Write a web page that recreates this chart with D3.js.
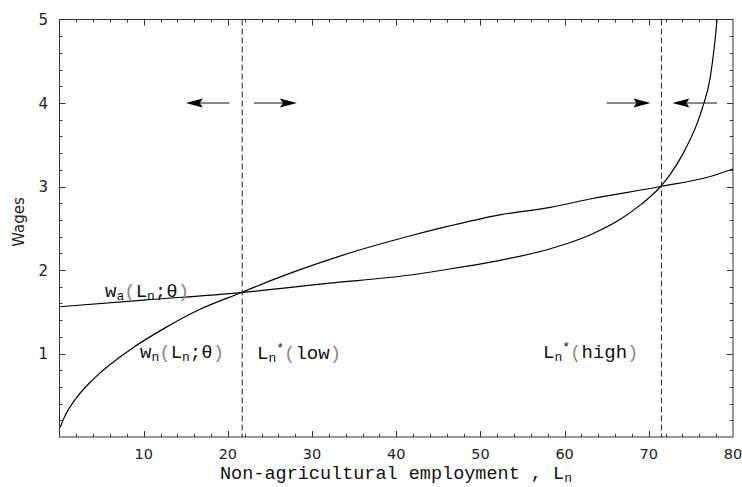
<!DOCTYPE html>
<html>
<head>
<meta charset="utf-8">
<script src="https://cdn.jsdelivr.net/npm/d3@7"></script>
<style>
  html, body { margin: 0; padding: 0; background: #fff; }
  svg { display: block; }
</style>
</head>
<body>
<svg id="chart" width="742" height="487"></svg>
<script>
// ---- data ----
const xTicks = [10, 20, 30, 40, 50, 60, 70, 80];
const yTicks = [1, 2, 3, 4, 5];
// w_n(L_n; θ) : concave curve
const wnX = [0.1, 0.5, 2.1, 4.1, 8.6, 12.6, 16.5, 21.6, 25.0, 33.4, 41.7, 45.6, 52.3, 58.3, 63.0, 71.4, 77.3, 80.0];
const wnY = [0.12, 0.22, 0.48, 0.70, 1.06, 1.31, 1.52, 1.73, 1.87, 2.17, 2.41, 2.51, 2.66, 2.75, 2.85, 3.00, 3.12, 3.21];
// w_a(L_n; θ) : convex curve
const waX = [0, 10, 21.6, 31.8, 41.7, 45.6, 51.5, 58.5, 63.0, 66.8, 69.0, 70.2, 71.4, 72.5, 74.1, 76.3, 77.3, 78.1, 78.4];
const waY = [1.56, 1.64, 1.73, 1.84, 1.94, 2.00, 2.10, 2.26, 2.42, 2.62, 2.78, 2.88, 3.00, 3.14, 3.40, 3.92, 4.31, 5.00, 5.4];
// equilibria
const eqLow = 21.7, eqHigh = 71.5;
// arrows at wage = 4 : [from, to]
const arrows = [[20.2, 15.0], [23.1, 28.2], [65.0, 70.2], [78.1, 72.8]];
const arrowY = 4;

(function () {
// ---- layout ----
const svg = d3.select("#chart");
const pL = 59.5, pR = 733, pT = 19.5, pB = 437;
const x = d3.scaleLinear().domain([0, 80]).range([pL, pR]);
const y = d3.scaleLinear().domain([0, 5]).range([pB, pT]);
const frameColor = "#333";

const defs = svg.append("defs");
defs.append("clipPath").attr("id", "plotclip")
  .append("rect").attr("x", pL).attr("y", pT).attr("width", pR - pL).attr("height", pB - pT);

// ticks (inward, all four sides)
const xMinor = d3.range(2, 80, 2);
const yMinor = d3.range(0.2, 5, 0.2).map(v => +v.toFixed(1));
const isMajorX = v => v % 10 === 0;
const isMajorY = v => Math.abs(v - Math.round(v)) < 1e-6;

const tickG = svg.append("g").attr("stroke", frameColor).attr("stroke-width", 1);
xMinor.forEach(v => {
  const len = isMajorX(v) ? 6 : 3;
  const px = Math.round(x(v)) + 0.5;
  tickG.append("line").attr("x1", px).attr("x2", px).attr("y1", pB).attr("y2", pB - len);
  tickG.append("line").attr("x1", px).attr("x2", px).attr("y1", pT).attr("y2", pT + len);
});
yMinor.forEach(v => {
  const len = isMajorY(v) ? 6 : 3;
  const py = Math.round(y(v)) + 0.5;
  tickG.append("line").attr("y1", py).attr("y2", py).attr("x1", pL).attr("x2", pL + len);
  tickG.append("line").attr("y1", py).attr("y2", py).attr("x1", pR).attr("x2", pR - len);
});

// frame
svg.append("rect").attr("x", pL).attr("y", pT).attr("width", pR - pL).attr("height", pB - pT)
  .attr("fill", "none").attr("stroke", frameColor).attr("stroke-width", 1);

// tick labels
const tickFont = "'DejaVu Sans', Verdana, sans-serif";
svg.append("g").selectAll("text").data(xTicks).join("text")
  .attr("x", d => x(d)).attr("y", 459)
  .attr("text-anchor", "middle").attr("font-family", tickFont).attr("font-size", 14.5).attr("fill", "#222")
  .text(d => d);
svg.append("g").selectAll("text").data(yTicks).join("text")
  .attr("x", 48).attr("y", d => y(d) + 5.5)
  .attr("text-anchor", "end").attr("font-family", tickFont).attr("font-size", 15).attr("fill", "#222")
  .text(d => d);

// axis titles
svg.append("text").attr("transform", "translate(24,222) rotate(-90)")
  .attr("text-anchor", "middle").attr("font-family", tickFont).attr("font-size", 15).attr("fill", "#222")
  .text("Wages");

const mono = "'Liberation Mono', 'Courier New', monospace";
const xt = svg.append("text").attr("x", 396).attr("y", 479).attr("text-anchor", "middle")
  .attr("font-family", mono).attr("font-size", 18.5).attr("fill", "#111");
xt.append("tspan").text("Non-agricultural employment , L");
xt.append("tspan").attr("font-size", 13).attr("dy", 3).text("n");

// curves
const plot = svg.append("g").attr("clip-path", "url(#plotclip)");
const line = d3.line().x(d => x(d[0])).y(d => y(d[1])).curve(d3.curveMonotoneX);
plot.append("path").datum(wnX.map((v, i) => [v, wnY[i]]))
  .attr("d", line).attr("fill", "none").attr("stroke", "#000").attr("stroke-width", 1.2);
plot.append("path").datum(waX.map((v, i) => [v, waY[i]]))
  .attr("d", line).attr("fill", "none").attr("stroke", "#000").attr("stroke-width", 1.2);

// dashed equilibrium lines
[eqLow, eqHigh].forEach(v => {
  plot.append("line").attr("x1", x(v)).attr("x2", x(v)).attr("y1", pT).attr("y2", pB)
    .attr("stroke", "#222").attr("stroke-width", 1).attr("stroke-dasharray", "6,3");
});

// arrows
arrows.forEach(([a, b]) => {
  const x1 = x(a), x2 = x(b), py = y(arrowY);
  const dir = Math.sign(x2 - x1);
  const headLen = 17, headH = 4.5;
  const baseX = x2 - dir * headLen;
  plot.append("line").attr("x1", x1).attr("x2", baseX + dir * 4).attr("y1", py).attr("y2", py)
    .attr("stroke", "#111").attr("stroke-width", 1);
  plot.append("path")
    .attr("d", `M${x2},${py} L${baseX},${py - headH} L${baseX + dir * 3},${py} L${baseX},${py + headH} Z`)
    .attr("fill", "#000");
});

// curve / equilibrium labels
function label(px, py, parts) {
  const t = svg.append("text").attr("x", px).attr("y", py)
    .attr("font-family", mono).attr("font-size", 19).attr("fill", "#111");
  let shift = 0;
  parts.forEach(p => {
    const s = t.append("tspan").text(p.t);
    const want = p.sub ? 3 : p.sup ? -7 : 0;
    if (want !== shift) { s.attr("dy", want - shift); shift = want; }
    if (p.sub || p.sup) s.attr("font-size", 13);
    if (p.paren) s.attr("fill", "#888");
  });
  return t;
}
label(105, 297, [{t: "w"}, {t: "a", sub: true}, {t: "(", paren: true}, {t: "L"}, {t: "n", sub: true}, {t: ";"}, {t: "θ"}, {t: ")", paren: true}]);
label(140, 358, [{t: "w"}, {t: "n", sub: true}, {t: "(", paren: true}, {t: "L"}, {t: "n", sub: true}, {t: ";"}, {t: "θ"}, {t: ")", paren: true}]);
label(257, 359, [{t: "L"}, {t: "n", sub: true}, {t: "*", sup: true}, {t: "(", paren: true}, {t: "low"}, {t: ")", paren: true}]);
label(543, 358, [{t: "L"}, {t: "n", sub: true}, {t: "*", sup: true}, {t: "(", paren: true}, {t: "high"}, {t: ")", paren: true}]);
})();
</script>
</body>
</html>
